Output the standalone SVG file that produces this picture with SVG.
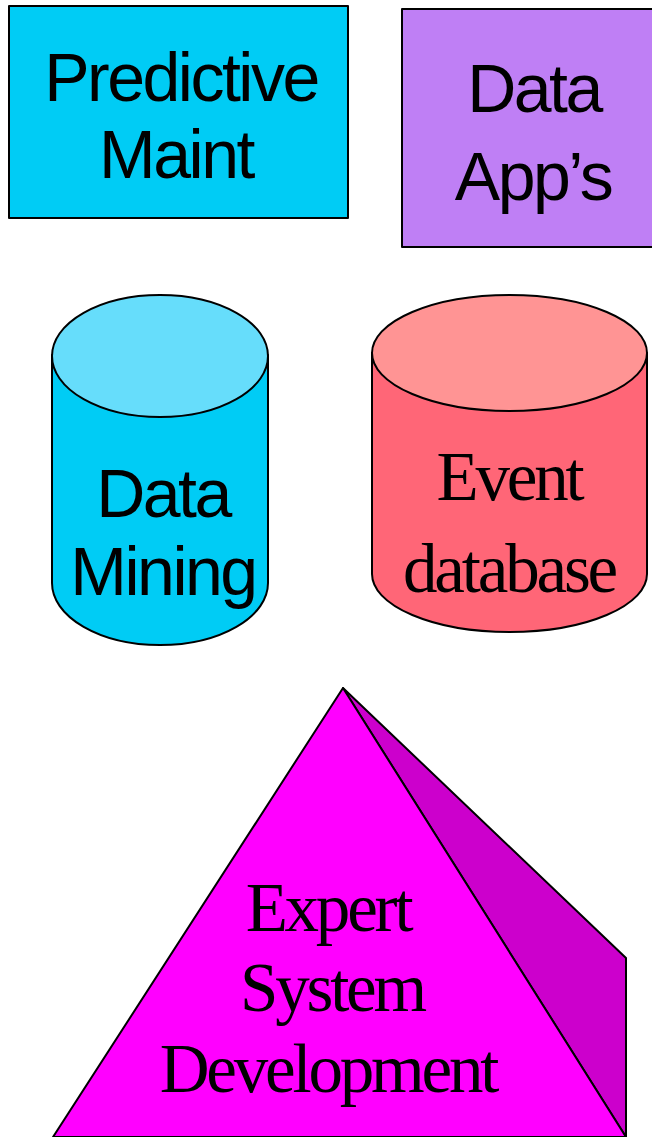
<svg xmlns="http://www.w3.org/2000/svg" width="652" height="1137" viewBox="0 0 652 1137">
<style>
.shape{stroke:#000;stroke-width:2;stroke-linejoin:round}
.sans{font-family:"Liberation Sans",Arial,sans-serif;font-size:68px;fill:#000;text-anchor:middle;letter-spacing:-2.5px}
.serif{font-family:"Liberation Serif","Times New Roman",serif;font-size:69px;fill:#000;text-anchor:middle;letter-spacing:-3.2px}
</style>
<rect width="652" height="1137" fill="#fff"/>
<g id="predictive-maint">
<rect class="shape" x="9" y="6" width="339" height="212" fill="#00CCF5"/>
<text class="sans" x="181" y="101">Predictive</text>
<text class="sans" x="176" y="178">Maint</text>
</g>
<g id="data-apps">
<rect class="shape" x="402" y="9" width="260" height="238" fill="#BF7FF5"/>
<text class="sans" x="534" y="112">Data</text>
<text class="sans" x="533" y="200">App’s</text>
</g>
<g id="data-mining">
<path class="shape" d="M52,355 L52,583 A108,62 0 0 0 268,583 L268,355 Z" fill="#00CCF5"/>
<ellipse class="shape" cx="160" cy="356" rx="108" ry="61" fill="#66DDFB"/>
<text class="sans" x="163" y="517">Data</text>
<text class="sans" x="163" y="595">Mining</text>
</g>
<g id="event-database">
<path class="shape" d="M372,353 L372,574 A137.5,58 0 0 0 647,574 L647,353 Z" fill="#FF6677"/>
<ellipse class="shape" cx="509.5" cy="353" rx="137.5" ry="58" fill="#FF9494"/>
<text class="serif" x="509" y="500">Event</text>
<text class="serif" x="509" y="592">database</text>
</g>
<g id="expert-system">
<polygon class="shape" points="343,688 626,958 626,1137" fill="#CC00CC"/>
<polygon class="shape" points="343,688 626,1137 53,1137" fill="#FF00FF"/>
<text class="serif" x="328" y="931">Expert</text>
<text class="serif" x="332" y="1011">System</text>
<text class="serif" x="328" y="1092">Development</text>
</g>
<g id="connectors"></g>
</svg>
